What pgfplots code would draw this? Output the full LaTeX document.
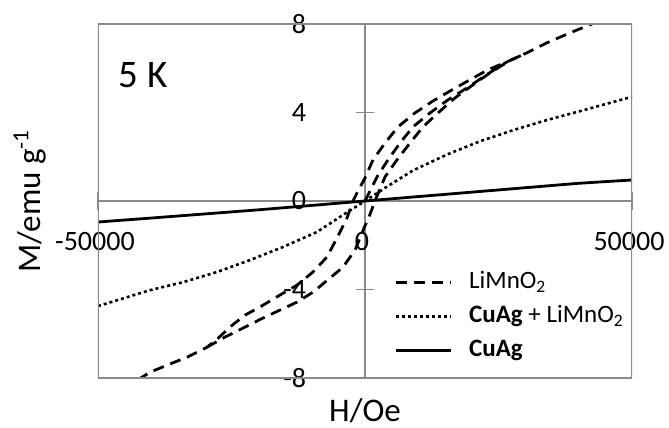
\documentclass[border=0pt]{standalone}
\usepackage{fontspec}
\setmainfont{Carlito}
\usepackage{pgfplots}
\pgfplotsset{compat=1.18}
\definecolor{axgray}{RGB}{138,138,138}
\begin{document}
\begin{tikzpicture}
\begin{axis}[
  name=ax,
  scale only axis,
  width=267pt, height=177pt,
  xmin=-50000, xmax=50000, ymin=-8, ymax=8,
  axis lines=middle,
  axis line style={-, draw=axgray, line width=0.9pt},
  hide obscured x ticks=false, hide obscured y ticks=false,
  scaled x ticks=false, scaled y ticks=false,
  /pgf/number format/assume math mode=true,
  xtick={-50000,0,50000}, xticklabels={-50000,0,50000},
  ytick={-8,-4,0,4,8}, yticklabels={-8,-4,0,4,8},
  tick style={draw=axgray, line width=0.9pt},
  major tick length=9pt, tick align=center,
  xticklabel style={font=\fontsize{14}{16}\selectfont, anchor=north, yshift=-7.4pt, xshift=-1.5pt},
  yticklabel style={font=\fontsize{14}{16}\selectfont, anchor=east, xshift=-21.4pt},
  xlabel={H/Oe}, ylabel={M/emu g\textsuperscript{-1}},
  every axis x label/.style={at={(rel axis cs:0.5,0)}, anchor=center, yshift=-16.5pt, font=\fontsize{16.5}{19}\selectfont},
  every axis y label/.style={at={(rel axis cs:0,0.5)}, anchor=center, xshift=-34pt, rotate=90, font=\fontsize{16.5}{19}\selectfont},
  legend style={draw=none, fill=none, at={(rel axis cs:0.543,0.322)}, anchor=north west,
    font=\fontsize{12.5}{15}\selectfont, row sep=3pt,
    nodes={inner sep=1pt, text height=9pt, text depth=3pt},
    /tikz/every odd column/.append style={column sep=7.5pt}},
  legend cell align=left,
  legend image code/.code={\draw[#1] (0pt,0pt) -- (27.5pt,0pt);},
]
\addplot[black, line width=1.4pt, dash pattern=on 5.5pt off 3.5pt] coordinates {
(50000,8.83) (42500,8.00) (38390,7.60) (34080,7.15) (30340,6.70) (26590,6.29)
(23030,5.93) (19660,5.48) (16290,5.02) (12730,4.52) (9360,3.98) (6180,3.35)
(3750,2.62) (1500,1.86) (0,1.04) (-1200,0.50) (-2250,0.00) (-3370,-0.77)
(-5240,-1.67) (-7120,-2.53) (-9740,-3.21) (-12730,-3.80) (-15920,-4.25)
(-19100,-4.71) (-22470,-5.16) (-25000,-5.64) (-27500,-6.20) (-29590,-6.61)
(-33330,-7.06) (-37080,-7.42) (-40260,-7.74) (-42000,-8.00) (-50000,-8.85)
};
\addlegendentry{LiMnO\textsubscript{2}}
\addplot[black, line width=1.3pt, dash pattern=on 1.5pt off 1.5pt] coordinates {
(-50000,-4.75) (-40260,-4.03) (-34080,-3.67) (-27720,-3.21) (-21540,-2.67)
(-15360,-2.08) (-8990,-1.40) (-4120,-0.63) (0,0.00) (4120,0.65) (8990,1.38)
(15360,2.10) (21540,2.70) (27720,3.20) (34080,3.66) (40260,4.06) (50000,4.71)
};
\addlegendentry{\textbf{CuAg} + LiMnO\textsubscript{2}}
\addplot[black, line width=1.4pt] coordinates {
(-50000,-0.95) (-40000,-0.77) (-20000,-0.40) (0,0) (20000,0.40) (40000,0.80) (50000,0.95)
};
\addlegendentry{\textbf{CuAg}}
\addplot[black, line width=1.4pt, dash pattern=on 5.5pt off 3.5pt, forget plot] coordinates {
(-29590,-6.61) (-26220,-6.15) (-22470,-5.70) (-19100,-5.29) (-15920,-4.93)
(-12730,-4.57) (-9740,-4.12) (-6550,-3.48) (-4120,-2.99) (-1870,-2.22)
(0,-1.12) (940,-0.60) (1870,0.00) (3750,1.09) (5990,1.86) (8430,2.62)
(10860,3.35) (13670,3.98) (16850,4.66) (20220,5.25) (23410,5.79) (27000,6.33)
(30340,6.70)
};
\addplot[black, line width=1.4pt, dash pattern=on 5.5pt off 3.5pt, forget plot] coordinates {
(0,0.00) (2250,1.09) (4310,1.86) (6550,2.62) (8990,3.35) (12170,3.98)
(15540,4.57) (19100,5.11) (22850,5.72) (26590,6.29)
};
\draw[axgray, line width=0.9pt] (rel axis cs:0,0) rectangle (rel axis cs:1,1);
\node[font=\fontsize{19.5}{22}\selectfont] at (rel axis cs:0.085,0.856) {5 K};
\end{axis}
\pgfresetboundingbox
\path[use as bounding box] ([xshift=-49pt,yshift=-25pt]ax.south west) rectangle ([xshift=18.5pt,yshift=12pt]ax.north east);
\end{tikzpicture}
\end{document}
